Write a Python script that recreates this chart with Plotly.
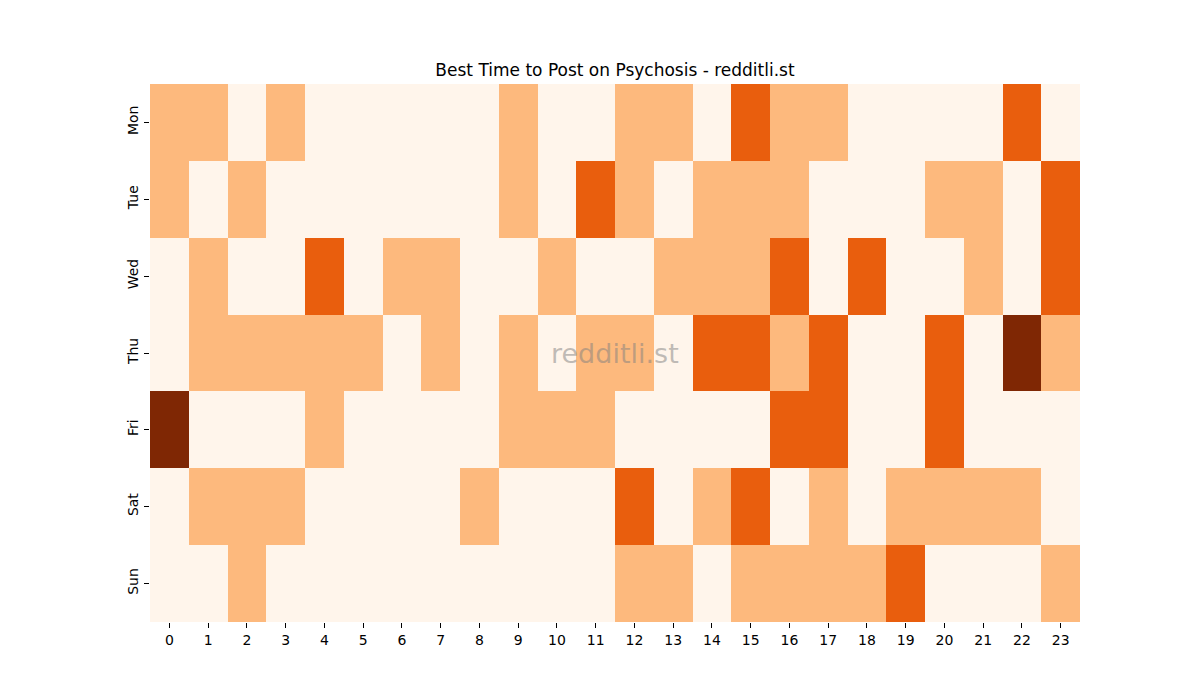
import plotly.graph_objects as go

# niveles de actividad por dia (0 = bajo ... 3 = maximo)
dias = ["Mon", "Tue", "Wed", "Thu", "Fri", "Sat", "Sun"]
horas = list(range(24))

mon = [1, 1, 0, 1, 0, 0, 0, 0, 0, 1, 0, 0, 1, 1, 0, 2, 1, 1, 0, 0, 0, 0, 2, 0]
tue = [1, 0, 1, 0, 0, 0, 0, 0, 0, 1, 0, 2, 1, 0, 1, 1, 1, 0, 0, 0, 1, 1, 0, 2]
wed = [0, 1, 0, 0, 2, 0, 1, 1, 0, 0, 1, 0, 0, 1, 1, 1, 2, 0, 2, 0, 0, 1, 0, 2]
thu = [0, 1, 1, 1, 1, 1, 0, 1, 0, 1, 0, 1, 1, 0, 2, 2, 1, 2, 0, 0, 2, 0, 3, 1]
fri = [3, 0, 0, 0, 1, 0, 0, 0, 0, 1, 1, 1, 0, 0, 0, 0, 2, 2, 0, 0, 2, 0, 0, 0]
sat = [0, 1, 1, 1, 0, 0, 0, 0, 1, 0, 0, 0, 2, 0, 1, 2, 0, 1, 0, 1, 1, 1, 1, 0]
sun = [0, 0, 1, 0, 0, 0, 0, 0, 0, 0, 0, 0, 1, 1, 0, 1, 1, 1, 1, 2, 0, 0, 0, 1]

z = [mon, tue, wed, thu, fri, sat, sun]

colores = [[0, "#fff5eb"], [1 / 3, "#fdb97d"], [2 / 3, "#e95e0d"], [1, "#7f2704"]]
fuente = "DejaVu Sans"

fig = go.Figure(
    go.Heatmap(
        z=z,
        x=horas,
        y=dias,
        colorscale=colores,
        zmin=0,
        zmax=3,
        showscale=False,
        xgap=0,
        ygap=0,
    )
)

# la pagina añade ~8 px de margen, se compensa aqui
fig.update_layout(
    width=1200,
    height=700,
    margin=dict(l=142, r=128, t=76, b=86),
    paper_bgcolor="white",
    plot_bgcolor="white",
    font=dict(family=fuente, size=14, color="black"),
    title=dict(
        text="Best Time to Post on Psychosis - redditli.st",
        x=607 / 1200,
        xanchor="center",
        y=1 - 62 / 700,
        yanchor="middle",
        font=dict(family=fuente, size=17, color="black"),
    ),
    annotations=[
        dict(
            text="redditli.st",
            x=0.5,
            y=0.5,
            xref="paper",
            yref="paper",
            showarrow=False,
            font=dict(family=fuente, size=27, color="rgba(128,128,128,0.5)"),
        )
    ],
)

fig.update_xaxes(
    type="category",
    tickmode="array",
    tickvals=horas,
    ticktext=[str(h) for h in horas],
    ticks="outside",
    ticklen=5,
    tickcolor="black",
    showgrid=False,
    zeroline=False,
    showline=False,
)
fig.update_yaxes(
    autorange="reversed",
    ticks="outside",
    ticklen=5,
    tickcolor="black",
    tickangle=-90,
    showgrid=False,
    zeroline=False,
    showline=False,
)

fig.write_html("out.html")
